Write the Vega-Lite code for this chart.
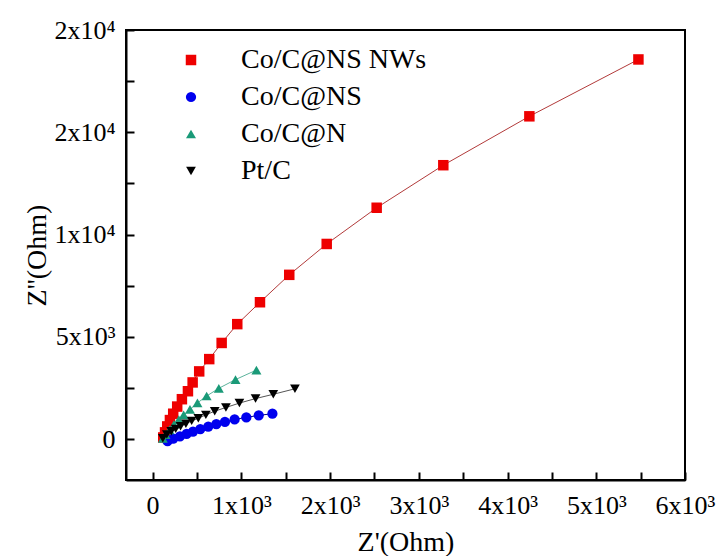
{
  "$schema": "https://vega.github.io/schema/vega-lite/v6.json",
  "width": 559,
  "height": 450,
  "autosize": {"type": "none"},
  "padding": {"left": 126, "top": 30, "right": 38, "bottom": 76},
  "background": "white",
  "config": {
    "view": {"stroke": "black", "strokeWidth": 2},
    "font": "Liberation Serif",
    "axis": {
      "grid": false,
      "domainColor": "black",
      "domainWidth": 2,
      "tickColor": "black",
      "tickWidth": 2,
      "labelFont": "Liberation Serif",
      "labelFontSize": 26,
      "labelColor": "black",
      "titleFont": "Liberation Serif",
      "titleFontSize": 28,
      "titleFontWeight": "normal",
      "titleColor": "black"
    },
    "legend": {
      "labelFont": "Liberation Serif",
      "labelFontSize": 28,
      "labelColor": "black",
      "labelLimit": 0
    }
  },
  "data": {
    "values": [
      {"s": "Co/C@NS NWs", "x": 5475, "y": 18560},
      {"s": "Co/C@NS NWs", "x": 4246, "y": 15780},
      {"s": "Co/C@NS NWs", "x": 3276, "y": 13390},
      {"s": "Co/C@NS NWs", "x": 2525, "y": 11310},
      {"s": "Co/C@NS NWs", "x": 1962, "y": 9540},
      {"s": "Co/C@NS NWs", "x": 1540, "y": 8030},
      {"s": "Co/C@NS NWs", "x": 1210, "y": 6690},
      {"s": "Co/C@NS NWs", "x": 954, "y": 5620},
      {"s": "Co/C@NS NWs", "x": 778, "y": 4700},
      {"s": "Co/C@NS NWs", "x": 638, "y": 3910},
      {"s": "Co/C@NS NWs", "x": 525, "y": 3310},
      {"s": "Co/C@NS NWs", "x": 451, "y": 2770},
      {"s": "Co/C@NS NWs", "x": 398, "y": 2340},
      {"s": "Co/C@NS NWs", "x": 330, "y": 1950},
      {"s": "Co/C@NS NWs", "x": 277, "y": 1590},
      {"s": "Co/C@NS NWs", "x": 232, "y": 1240},
      {"s": "Co/C@NS NWs", "x": 195, "y": 930},
      {"s": "Co/C@NS NWs", "x": 165, "y": 620},
      {"s": "Co/C@NS NWs", "x": 140, "y": 330},
      {"s": "Co/C@NS NWs", "x": 120, "y": 80},
      {"s": "Co/C@NS", "x": 1350, "y": 1240},
      {"s": "Co/C@NS", "x": 1196, "y": 1160},
      {"s": "Co/C@NS", "x": 1056, "y": 1060},
      {"s": "Co/C@NS", "x": 924, "y": 960},
      {"s": "Co/C@NS", "x": 815, "y": 840},
      {"s": "Co/C@NS", "x": 718, "y": 735},
      {"s": "Co/C@NS", "x": 627, "y": 612},
      {"s": "Co/C@NS", "x": 537, "y": 490},
      {"s": "Co/C@NS", "x": 455, "y": 366},
      {"s": "Co/C@NS", "x": 383, "y": 253},
      {"s": "Co/C@NS", "x": 308, "y": 138},
      {"s": "Co/C@NS", "x": 232, "y": 22},
      {"s": "Co/C@NS", "x": 168, "y": -100},
      {"s": "Co/C@N", "x": 1170, "y": 3375},
      {"s": "Co/C@N", "x": 934, "y": 2908},
      {"s": "Co/C@N", "x": 746, "y": 2482},
      {"s": "Co/C@N", "x": 609, "y": 2105},
      {"s": "Co/C@N", "x": 505, "y": 1768},
      {"s": "Co/C@N", "x": 421, "y": 1450},
      {"s": "Co/C@N", "x": 350, "y": 1187},
      {"s": "Co/C@N", "x": 295, "y": 950},
      {"s": "Co/C@N", "x": 240, "y": 710},
      {"s": "Co/C@N", "x": 190, "y": 450},
      {"s": "Co/C@N", "x": 145, "y": 220},
      {"s": "Co/C@N", "x": 115, "y": 30},
      {"s": "Pt/C", "x": 1604, "y": 2460},
      {"s": "Pt/C", "x": 1360, "y": 2190},
      {"s": "Pt/C", "x": 1160, "y": 1980},
      {"s": "Pt/C", "x": 978, "y": 1760},
      {"s": "Pt/C", "x": 826, "y": 1545},
      {"s": "Pt/C", "x": 700, "y": 1365},
      {"s": "Pt/C", "x": 600, "y": 1185},
      {"s": "Pt/C", "x": 515, "y": 1020},
      {"s": "Pt/C", "x": 440, "y": 890},
      {"s": "Pt/C", "x": 375, "y": 750},
      {"s": "Pt/C", "x": 315, "y": 630},
      {"s": "Pt/C", "x": 260, "y": 500},
      {"s": "Pt/C", "x": 210, "y": 380},
      {"s": "Pt/C", "x": 160, "y": 230},
      {"s": "Pt/C", "x": 115, "y": 40}
    ]
  },
  "params": [
    {"name": "legendSpec", "value": 0}
  ],
  "layer": [
    {
      "mark": {"type": "line", "strokeWidth": 1},
      "encoding": {
        "x": {
          "field": "x", "type": "quantitative",
          "scale": {"domain": [-300, 6000], "nice": false, "zero": false},
          "axis": {
            "title": "Z'(Ohm)",
            "values": [0, 500, 1000, 1500, 2000, 2500, 3000, 3500, 4000, 4500, 5000, 5500, 6000],
            "labelExpr": "datum.value == 0 ? '0' : (datum.value % 1000 == 0 ? (datum.value / 1000) + 'x10³' : '')",
            "tickSize": -8,
            "labelPadding": 20,
            "titlePadding": 10,
            "labelFlush": false,
            "labelOverlap": false,
            "encode": {"ticks": {"y2": {"value": {"expr": "datum.value % 1000 == 0 ? -8 : -4"}}}}
          }
        },
        "y": {
          "field": "y", "type": "quantitative",
          "scale": {"domain": [-2000, 20000], "nice": false, "zero": false},
          "axis": {
            "title": "Z''(Ohm)",
            "values": [0, 2500, 5000, 7500, 10000, 12500, 15000, 17500, 20000],
            "labelExpr": "datum.value == 0 ? '0' : datum.value == 5000 ? '5x10³' : datum.value == 10000 ? '1x10⁴' : (datum.value == 15000 || datum.value == 20000) ? '2x10⁴' : ''",
            "tickSize": -8,
            "labelPadding": 19,
            "titlePadding": 2,
            "labelFlush": false,
            "labelOverlap": false,
            "encode": {"ticks": {"x2": {"value": {"expr": "datum.value % 5000 == 0 ? 8 : 4"}}}}
          }
        },
        "stroke": {
          "field": "s", "type": "nominal",
          "scale": {"domain": ["Pt/C", "Co/C@N", "Co/C@NS", "Co/C@NS NWs"], "range": ["#555555", "#5cb39c", "#000080", "#b23a3a"]},
          "legend": null
        }
      }
    },
    {
      "mark": {"type": "point", "filled": true, "opacity": 1},
      "encoding": {
        "x": {"field": "x", "type": "quantitative"},
        "y": {"field": "y", "type": "quantitative"},
        "size": {
          "field": "s", "type": "nominal",
          "scale": {"domain": ["Co/C@NS NWs", "Co/C@NS", "Co/C@N", "Pt/C"], "range": [110, 95, 150, 150]},
          "legend": {
            "title": null,
            "orient": "none",
            "legendX": 51,
            "legendY": 16,
            "symbolSize": 100,
            "labelOffset": 36,
            "rowPadding": 9,
            "encode": {
              "symbols": {
                "shape": {"value": {"expr": "datum.value == 'Co/C@NS NWs' ? 'M-6.6,0H-1M1,0H6.6M-1,-1H1V1H-1Z' : datum.value == 'Co/C@NS' ? 'M-6.6,0H-1M1,0H6.6M1,0C1,0.552,0.552,1,0,1C-0.552,1,-1,0.552,-1,0C-1,-0.552,-0.552,-1,0,-1C0.552,-1,1,-0.552,1,0Z' : datum.value == 'Co/C@N' ? 'M-6.6,0H-1M1,0H6.6M0,-1.1L1.15,0.9H-1.15Z' : 'M-6.6,0H-1M1,0H6.6M0,1.1L1.15,-0.9H-1.15Z'"}},
                "stroke": {"value": {"expr": "datum.value == 'Co/C@NS NWs' ? '#b23a3a' : datum.value == 'Co/C@NS' ? '#000080' : datum.value == 'Co/C@N' ? '#5cb39c' : '#555555'"}},
                "fill": {"value": {"expr": "datum.value == 'Co/C@NS NWs' ? '#ee0000' : datum.value == 'Co/C@NS' ? '#0000ee' : datum.value == 'Co/C@N' ? '#1a9a78' : '#000000'"}},
                "size": {"value": 100},
                "strokeWidth": {"value": 1},
                "opacity": {"value": 1}
              }
            }
          }
        },
        "fill": {
          "field": "s", "type": "nominal",
          "scale": {"domain": ["Co/C@NS NWs", "Co/C@NS", "Co/C@N", "Pt/C"], "range": ["#ee0000", "#0000ee", "#1a9a78", "#000000"]},
          "legend": {
            "title": null,
            "orient": "none",
            "legendX": 51,
            "legendY": 16,
            "symbolSize": 100,
            "labelOffset": 36,
            "rowPadding": 9,
            "encode": {
              "symbols": {
                "shape": {"value": {"expr": "datum.value == 'Co/C@NS NWs' ? 'M-6.6,0H-1M1,0H6.6M-1,-1H1V1H-1Z' : datum.value == 'Co/C@NS' ? 'M-6.6,0H-1M1,0H6.6M1,0C1,0.552,0.552,1,0,1C-0.552,1,-1,0.552,-1,0C-1,-0.552,-0.552,-1,0,-1C0.552,-1,1,-0.552,1,0Z' : datum.value == 'Co/C@N' ? 'M-6.6,0H-1M1,0H6.6M0,-1.1L1.15,0.9H-1.15Z' : 'M-6.6,0H-1M1,0H6.6M0,1.1L1.15,-0.9H-1.15Z'"}},
                "stroke": {"value": {"expr": "datum.value == 'Co/C@NS NWs' ? '#b23a3a' : datum.value == 'Co/C@NS' ? '#000080' : datum.value == 'Co/C@N' ? '#5cb39c' : '#555555'"}},
                "fill": {"value": {"expr": "datum.value == 'Co/C@NS NWs' ? '#ee0000' : datum.value == 'Co/C@NS' ? '#0000ee' : datum.value == 'Co/C@N' ? '#1a9a78' : '#000000'"}},
                "size": {"value": 100},
                "strokeWidth": {"value": 1},
                "opacity": {"value": 1}
              }
            }
          }
        },
        "shape": {
          "field": "s", "type": "nominal",
          "scale": {"domain": ["Co/C@NS NWs", "Co/C@NS", "Co/C@N", "Pt/C"], "range": ["square", "circle", "triangle-up", "triangle-down"]},
          "legend": {
            "title": null,
            "orient": "none",
            "legendX": 51,
            "legendY": 16,
            "symbolSize": 100,
            "labelOffset": 36,
            "rowPadding": 9,
            "encode": {
              "symbols": {
                "shape": {"value": {"expr": "datum.value == 'Co/C@NS NWs' ? 'M-6.6,0H-1M1,0H6.6M-1,-1H1V1H-1Z' : datum.value == 'Co/C@NS' ? 'M-6.6,0H-1M1,0H6.6M1,0C1,0.552,0.552,1,0,1C-0.552,1,-1,0.552,-1,0C-1,-0.552,-0.552,-1,0,-1C0.552,-1,1,-0.552,1,0Z' : datum.value == 'Co/C@N' ? 'M-6.6,0H-1M1,0H6.6M0,-1.1L1.15,0.9H-1.15Z' : 'M-6.6,0H-1M1,0H6.6M0,1.1L1.15,-0.9H-1.15Z'"}},
                "stroke": {"value": {"expr": "datum.value == 'Co/C@NS NWs' ? '#b23a3a' : datum.value == 'Co/C@NS' ? '#000080' : datum.value == 'Co/C@N' ? '#5cb39c' : '#555555'"}},
                "fill": {"value": {"expr": "datum.value == 'Co/C@NS NWs' ? '#ee0000' : datum.value == 'Co/C@NS' ? '#0000ee' : datum.value == 'Co/C@N' ? '#1a9a78' : '#000000'"}},
                "size": {"value": 100},
                "strokeWidth": {"value": 1},
                "opacity": {"value": 1}
              }
            }
          }
        }
      }
    }
  ]
}
